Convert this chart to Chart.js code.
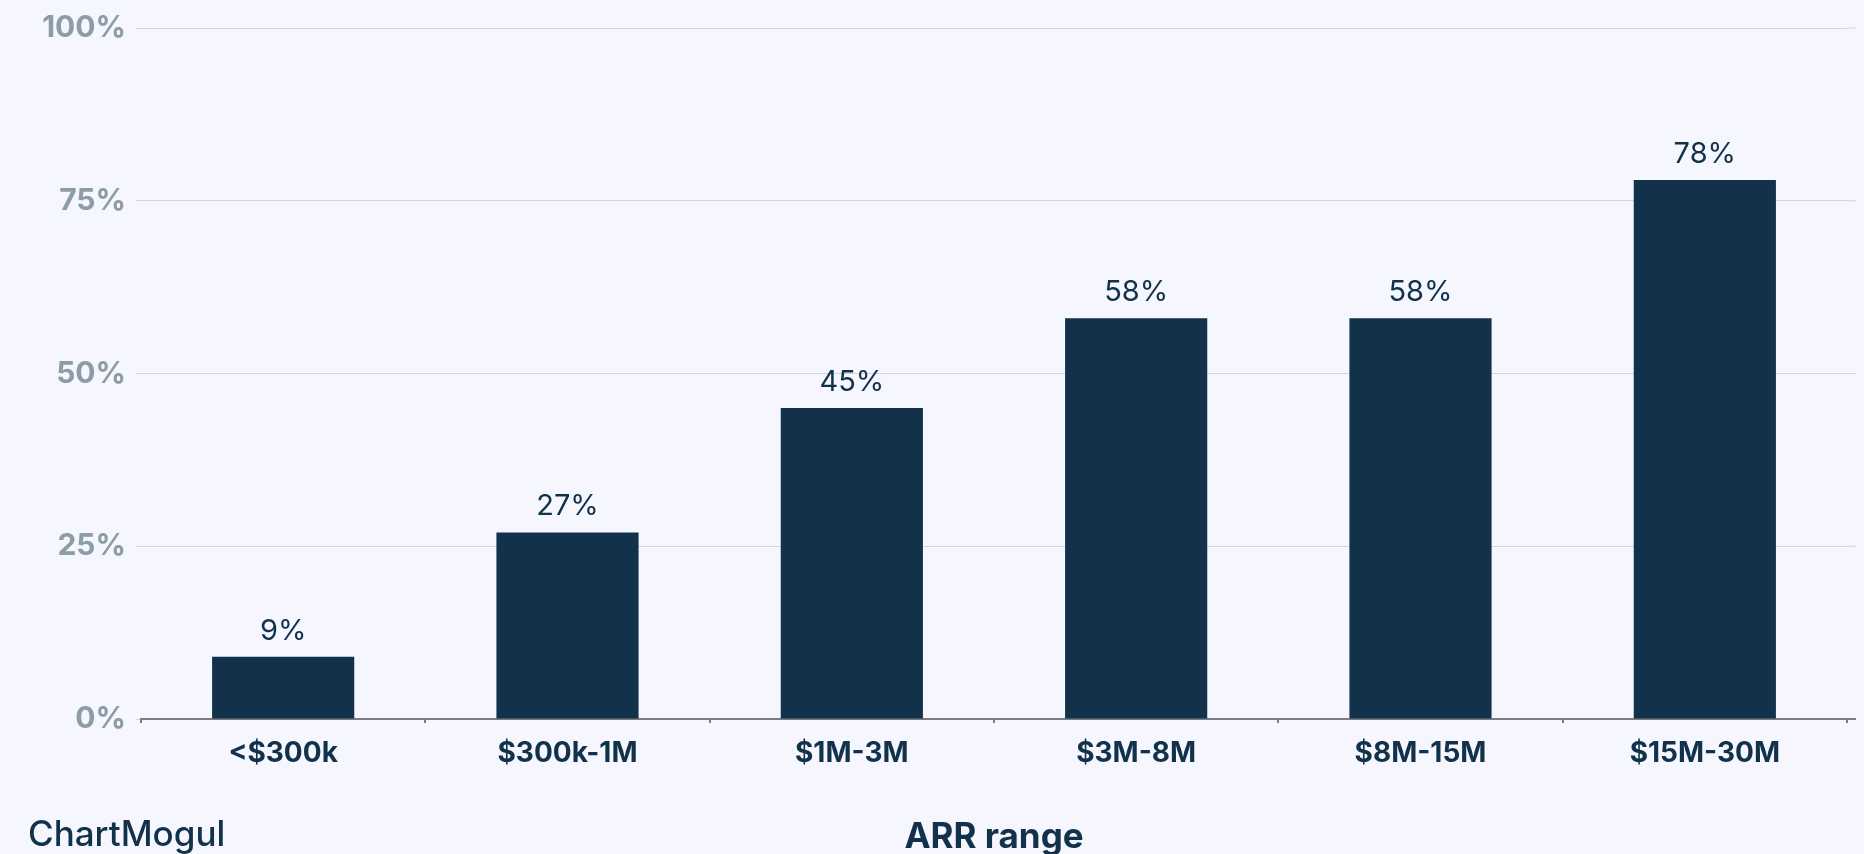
<!DOCTYPE html>
<html>
<head>
<meta charset="utf-8">
<script src="https://cdn.jsdelivr.net/npm/chart.js@4/dist/chart.umd.min.js"></script>
<style>
  html, body { margin: 0; padding: 0; background: #f5f6fe; overflow: hidden; }
  #wrap { position: relative; width: 1864px; height: 854px; }
</style>
</head>
<body>
<div id="wrap"><canvas id="arrChart"></canvas></div>
<script>
// Data
const arrRanges = ['<$300k', '$300k-1M', '$1M-3M', '$3M-8M', '$8M-15M', '$15M-30M'];
const shareValues = [9, 27, 45, 58, 58, 78];
const yTicks = [0, 25, 50, 75, 100];

const colors = {
  bar: '#12324c',
  grid: '#d3d4dd',
  axis: '#7b7c84',
  yLabel: '#8c9da8',
  text: '#12324c'
};

// value labels above each bar
const barLabels = {
  id: 'barLabels',
  afterDatasetsDraw(chart) {
    const ctx = chart.ctx;
    const meta = chart.getDatasetMeta(0);
    ctx.save();
    ctx.font = '400 29px Inter';
    ctx.fillStyle = colors.text;
    ctx.textAlign = 'center';
    ctx.textBaseline = 'alphabetic';
    meta.data.forEach((bar, i) => {
      ctx.fillText(shareValues[i] + '%', bar.x, bar.y - 17);
    });
    ctx.restore();
  }
};

// grid lines run a little past the last category
const gridTail = {
  id: 'gridTail',
  beforeDatasetsDraw(chart) {
    const ctx = chart.ctx;
    const y = chart.scales.y;
    const right = chart.chartArea.right;
    ctx.save();
    y.ticks.forEach(t => {
      const py = y.getPixelForValue(t.value);
      ctx.beginPath();
      ctx.strokeStyle = t.value === 0 ? colors.axis : colors.grid;
      ctx.lineWidth = t.value === 0 ? 2 : 1;
      ctx.moveTo(right - 1, py);
      ctx.lineTo(right + 9, py);
      ctx.stroke();
    });
    ctx.restore();
  }
};

// brand mark in the corner
const brand = {
  id: 'brand',
  afterDraw(chart) {
    const ctx = chart.ctx;
    ctx.save();
    ctx.font = '500 35px Inter';
    ctx.fillStyle = colors.text;
    ctx.textAlign = 'left';
    ctx.textBaseline = 'alphabetic';
    ctx.fillText('ChartMogul', 28, 846);
    ctx.restore();
  }
};

new Chart(document.getElementById('arrChart'), {
  type: 'bar',
  data: {
    labels: arrRanges,
    datasets: [{
      data: shareValues,
      backgroundColor: colors.bar,
      borderWidth: 0,
      barPercentage: 0.5,
      categoryPercentage: 1.0
    }]
  },
  options: {
    responsive: true,
    maintainAspectRatio: false,
    animation: false,
    layout: { padding: { top: 27, right: 17, left: 0, bottom: 0 } },
    plugins: {
      legend: { display: false },
      tooltip: { enabled: false }
    },
    scales: {
      x: {
        afterFit(axis) { axis.height = 135; },
        grid: {
          drawOnChartArea: false,
          drawTicks: true,
          tickLength: 4,
          color: colors.axis,
          lineWidth: 2
        },
        border: { display: true, color: colors.axis, width: 2 },
        ticks: {
          color: colors.text,
          padding: 14,
          font: { family: 'Inter', size: 28, weight: '700' }
        },
        title: {
          display: true,
          text: 'ARR range',
          color: colors.text,
          font: { family: 'Inter', size: 35, weight: '700' },
          padding: { top: 0, bottom: -4 }
        }
      },
      y: {
        min: 0,
        max: 100,
        afterFit(axis) { axis.width = 141; },
        afterBuildTicks(axis) { axis.ticks = yTicks.map(v => ({ value: v })); },
        grid: {
          color: colors.grid,
          lineWidth: 1,
          drawTicks: true,
          tickLength: 5
        },
        border: { display: false },
        ticks: {
          color: colors.yLabel,
          padding: 10,
          font: { family: 'Inter', size: 30, weight: '700' },
          callback: v => v + '%'
        }
      }
    }
  },
  plugins: [gridTail, barLabels, brand]
});
</script>
</body>
</html>
